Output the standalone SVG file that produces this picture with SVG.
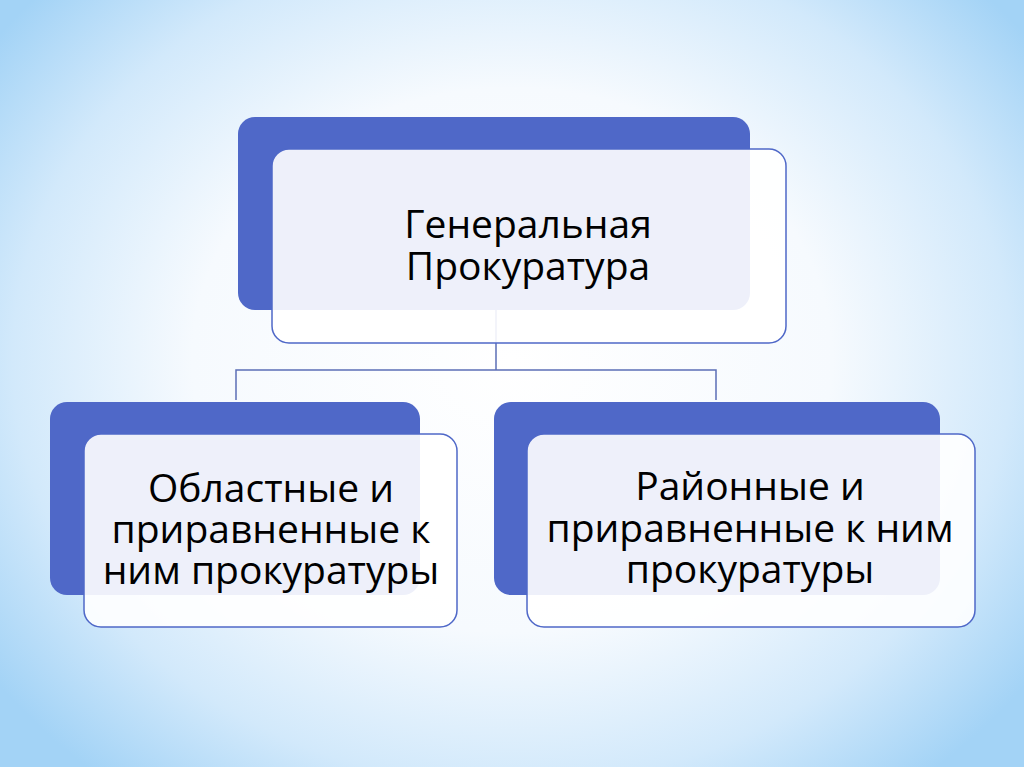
<svg xmlns="http://www.w3.org/2000/svg" width="1024" height="767" viewBox="0 0 1024 767">
<defs>
<radialGradient id="bg" cx="512" cy="360" r="640" gradientUnits="userSpaceOnUse" gradientTransform="translate(512 360) scale(1 0.85) translate(-512 -360)">
<stop offset="0" stop-color="#ffffff"/>
<stop offset="0.5" stop-color="#f6fafe"/>
<stop offset="0.78" stop-color="#d2e9fb"/>
<stop offset="1" stop-color="#a3d3f6"/>
</radialGradient>
<style>
.back{fill:#4f68c8;}
.front{fill:#ffffff;fill-opacity:0.9;stroke:#4f68c8;stroke-width:1.5;}
.lbl{font-family:"Open Sans","Liberation Sans",sans-serif;fill:#000;text-anchor:middle;font-size:39px;}
.conn{fill:none;stroke:#4a5fae;stroke-width:1.5;}
</style>
</defs>
<rect width="1024" height="767" fill="url(#bg)"/>
<g id="connectors">
<path class="conn" d="M496 310V370M236 400V370H716V400" stroke-opacity="0.9"/>
</g>
<g id="node-general">
<rect class="back" x="238" y="117" width="512" height="193" rx="17"/>
<rect class="front" x="272" y="149" width="514" height="194" rx="17"/>
<text class="lbl"><tspan x="528" y="238">Генеральная</tspan><tspan x="528" y="280">Прокуратура</tspan></text>
</g>
<g id="node-oblast">
<rect class="back" x="50" y="402" width="370" height="193" rx="17"/>
<rect class="front" x="84" y="434" width="373" height="193" rx="17"/>
<text class="lbl"><tspan x="271" y="502">Областные и</tspan><tspan x="271" y="543">приравненные к</tspan><tspan x="271" y="584">ним прокуратуры</tspan></text>
</g>
<g id="node-rayon">
<rect class="back" x="494" y="402" width="446" height="193" rx="17"/>
<rect class="front" x="527" y="434" width="448" height="193" rx="17"/>
<text class="lbl"><tspan x="750" y="500">Районные и</tspan><tspan x="750" y="542">приравненные к ним</tspan><tspan x="750" y="583">прокуратуры</tspan></text>
</g>
</svg>
